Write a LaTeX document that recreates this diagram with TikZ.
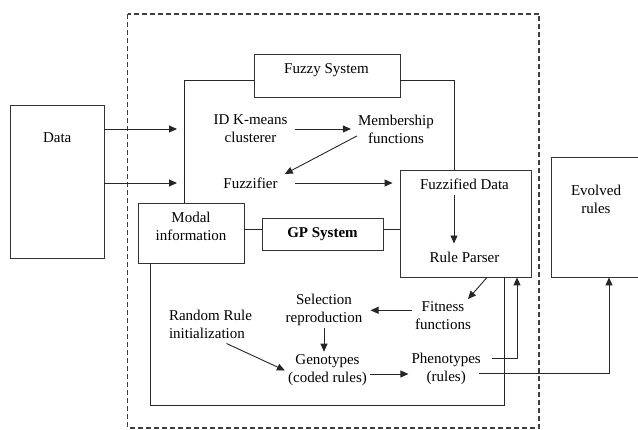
\documentclass[tikz,border=0pt]{standalone}
\usepackage{fontspec}
\setmainfont{Liberation Serif}
\usepackage{tikz}
\usetikzlibrary{arrows.meta}
\tikzset{box/.style={draw=black!80, line width=0.9pt, rectangle, inner sep=0pt},
  txt/.style={align=center, inner sep=3pt, font=\fontsize{15}{18}\selectfont},
  wire/.style={draw=black!85, line width=0.9pt},
  arr/.style={wire, -{Triangle[length=8pt,width=7pt]}}}

\begin{document}
\begin{tikzpicture}[x=10pt,y=-10pt]
\useasboundingbox (0,0) rectangle (63.8,43.0);

\draw[line width=1.4pt, black!75, dash pattern=on 5pt off 3pt] (12.75,1.4) rectangle (53.9,42.8);

% boxes
\node[box, minimum width=94pt, minimum height=153pt] (data) at (5.7,18.15) {};
\node[txt] (datatxt) at (5.72,13.8) {Data};
\node[box, minimum width=146pt, minimum height=43pt] (fuzzy) at (32.7,7.55) {};
\node[txt] (fuzzytxt) at (32.65,7.0) {Fuzzy System};
\node[box, minimum width=131pt, minimum height=107pt] (fzdata) at (46.55,22.35) {};
\node[txt] (fztxt) at (46.45,18.4) {Fuzzified Data};
\node[txt] (parser) at (46.45,25.7) {Rule Parser};
\node[box, minimum width=106pt, minimum height=60pt] (modal) at (19.1,23.3) {};
\node[txt] (modaltxt) at (19.1,22.6) {Modal\\information};
\node[box, txt, font=\fontsize{15}{18}\selectfont\bfseries, minimum width=121pt, minimum height=32pt] (gp) at (32.25,23.4) {GP System};
\node[box, minimum width=94pt, minimum height=120pt] (evolved) at (59.8,21.7) {};
\node[txt] (evtxt) at (59.6,19.95) {Evolved\\rules};

% texts
\node[txt, inner xsep=7pt] (kmeans) at (25.05,12.9) {ID K-means\\clusterer};
\node[txt, inner xsep=7pt] (member) at (39.6,12.9) {Membership\\functions};
\node[txt, inner xsep=7pt] (fuzzifier) at (25.05,18.3) {Fuzzifier};
\node[txt, align=left] (random) at (21.05,32.4) {Random Rule\\initialization};
\node[txt] (select) at (32.4,30.95) {Selection\\reproduction};
\node[txt] (fitness) at (44.3,31.53) {Fitness\\functions};
\node[txt] (geno) at (32.75,37.05) {Genotypes\\(coded rules)};
\node[txt] (pheno) at (44.62,36.85) {Phenotypes\\(rules)};

% frames
\coordinate (fzL) at (18.4,8.0);
\coordinate (fzR) at (45.4,8.0);
\draw[wire] (fuzzy.west |- fzL) -- (fzL) -- (fzL |- modal.north);
\draw[wire] (fuzzy.east |- fzR) -- (fzR) -- (fzR |- fzdata.north);
\coordinate (gpL) at (15.0,40.5);
\coordinate (gpR) at (50.4,40.5);
\draw[wire] (gpL |- modal.south) -- (gpL) -- (gpR) -- (gpR |- fzdata.south);
\coordinate (gpw) at ([yshift=4.5pt]gp.west);
\coordinate (gpe) at ([yshift=4.5pt]gp.east);
\draw[wire] (gpw) -- (gpw -| modal.east);
\draw[wire] (gpe) -- (gpe -| fzdata.west);

% arrows
\draw[arr, shorten >=7pt] (data.east |- kmeans) -- (fzL |- kmeans);
\draw[arr, shorten >=7pt] (data.east |- fuzzifier) -- (fzL |- fuzzifier);
\draw[arr] (kmeans.east) -- (member.west);
\draw[arr] ([xshift=6pt,yshift=-7pt]member.west) -- ([yshift=9pt]fuzzifier.east);
\draw[arr, shorten <=10pt, shorten >=7pt] (fuzzifier.east) -- (fzdata.west |- fuzzifier);
\draw[arr, shorten <=2pt, shorten >=5pt] (fzR |- fztxt.south) -- (fzR |- parser.north);
\draw[arr] ([xshift=21.5pt]fzdata.south) -- ([xshift=25pt,yshift=-1pt]fitness.north);
\coordinate (fitw) at ([yshift=5pt]fitness.west);
\draw[arr, shorten >=5pt] (fitw) -- (fitw -| select.east);
\draw[arr] (select.south) -- (select.south |- geno.north);
\draw[arr] ([xshift=16pt,yshift=-2pt]random.south) -- (geno.west);
\coordinate (genoe) at ([yshift=-3.5pt]geno.east);
\draw[arr] (genoe) -- (genoe -| pheno.west);
\draw[arr] ([xshift=8pt,yshift=10.5pt]pheno.east) -| ([xshift=51.5pt]fzdata.south);
\draw[arr] ([xshift=-4.7pt,yshift=-4.5pt]pheno.east) -| ([xshift=11pt]evolved.south);

\end{tikzpicture}
\end{document}
